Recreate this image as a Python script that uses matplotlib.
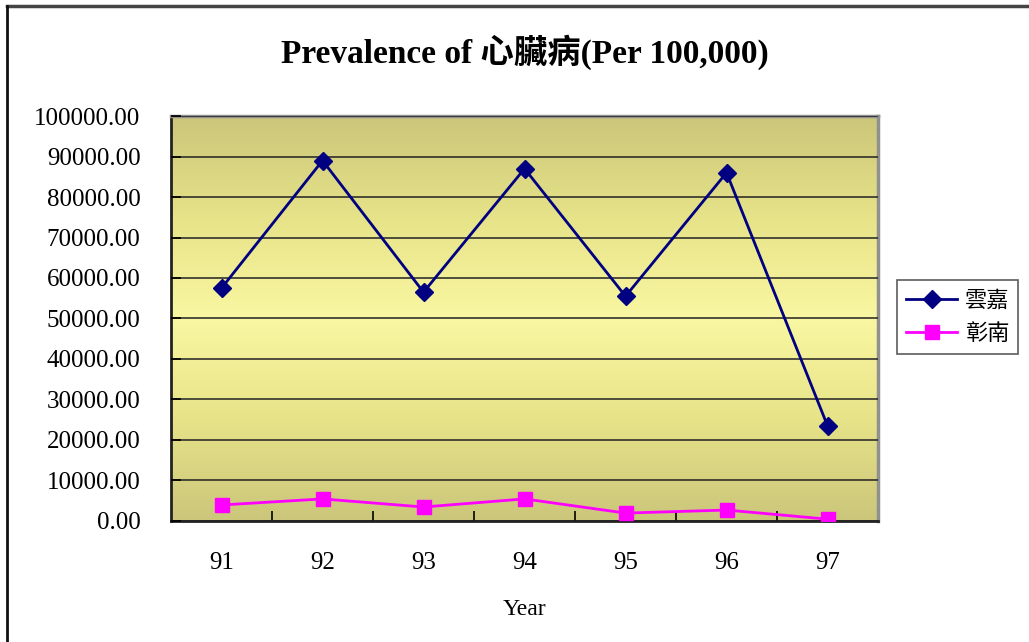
import numpy as np
import matplotlib.pyplot as plt
from matplotlib.colors import LinearSegmentedColormap
from matplotlib.lines import Line2D

plt.rcParams['font.family'] = ['Liberation Serif', 'Noto Sans CJK TC']

years = ['91', '92', '93', '94', '95', '96', '97']
yunjia = [57500, 89000, 56500, 87000, 55500, 86000, 23500]
zhangnan = [3950, 5450, 3450, 5450, 1950, 2700, 450]

fig = plt.figure(figsize=(10.29, 6.42), dpi=100)
ax = fig.add_axes([0.1662, 0.1885, 0.6871, 0.6308])

# gradient fill: olive at the edges, pale yellow in the middle
cmap = LinearSegmentedColormap.from_list(
    'bg', ['#cbc67a', '#e6e389', '#faf7a2', '#e6e389', '#cbc67a'])
grad = np.linspace(0, 1, 256).reshape(-1, 1)
ax.imshow(grad, cmap=cmap, aspect='auto', extent=(-0.5, 6.5, 0, 100000),
          origin='lower', zorder=0)

x = np.arange(len(years))
ax.plot(x, yunjia, color='#000080', lw=2, marker='D', ms=9, zorder=3)
ax.plot(x, zhangnan, color='#ff00ff', lw=2, marker='s', ms=10, zorder=3)

ax.set_xlim(-0.5, 6.5)
ax.set_ylim(0, 100000)
ax.set_yticks(np.arange(0, 100001, 10000))
ax.set_yticklabels([f'{v:.2f}' for v in np.arange(0, 100001, 10000)])
ax.yaxis.grid(True, color='#222222', lw=1.1)
ax.set_axisbelow(False)

ax.set_xticks(x)
ax.set_xticklabels(years)
ax.set_xticks(np.arange(0.5, 6.5, 1), minor=True)
ax.tick_params(axis='x', which='major', length=0, pad=22, labelsize=18)
ax.tick_params(axis='x', which='minor', length=7, direction='in', width=1.2)
ax.tick_params(axis='y', length=7, direction='in', width=1.2, labelsize=18,
               pad=22)

for side in ['left', 'bottom']:
    ax.spines[side].set_color('#222222')
    ax.spines[side].set_linewidth(2)
for side in ['top', 'right']:
    ax.spines[side].set_color('#909090')
    ax.spines[side].set_linewidth(2.5)

ax.set_xlabel('Year', fontsize=17, labelpad=18)
fig.text(0.51, 0.918, 'Prevalence of 心臟病(Per 100,000)', ha='center',
         va='center', fontsize=24, fontweight='bold')

handles = [
    Line2D([], [], color='#000080', lw=2, marker='D', ms=9, label='雲嘉'),
    Line2D([], [], color='#ff00ff', lw=2, marker='s', ms=10, label='彰南'),
]
leg = fig.legend(handles=handles, loc='center left',
                 bbox_to_anchor=(0.872, 0.506), frameon=True, fancybox=False,
                 edgecolor='#333333', prop={'family': 'Noto Sans CJK TC',
                                            'size': 16},
                 handlelength=2.3, borderpad=0.4, labelspacing=0.45,
                 handletextpad=0.35, borderaxespad=0)
leg.get_frame().set_linewidth(1.2)

# outer chart border (top and left edges)
fig.add_artist(Line2D([0.007, 1.0], [0.991, 0.991], color='#444444', lw=2.5,
                      transform=fig.transFigure))
fig.add_artist(Line2D([0.007, 0.007], [0.0, 0.991], color='#111111', lw=2,
                      transform=fig.transFigure))

fig.savefig('out.png', dpi=100)
